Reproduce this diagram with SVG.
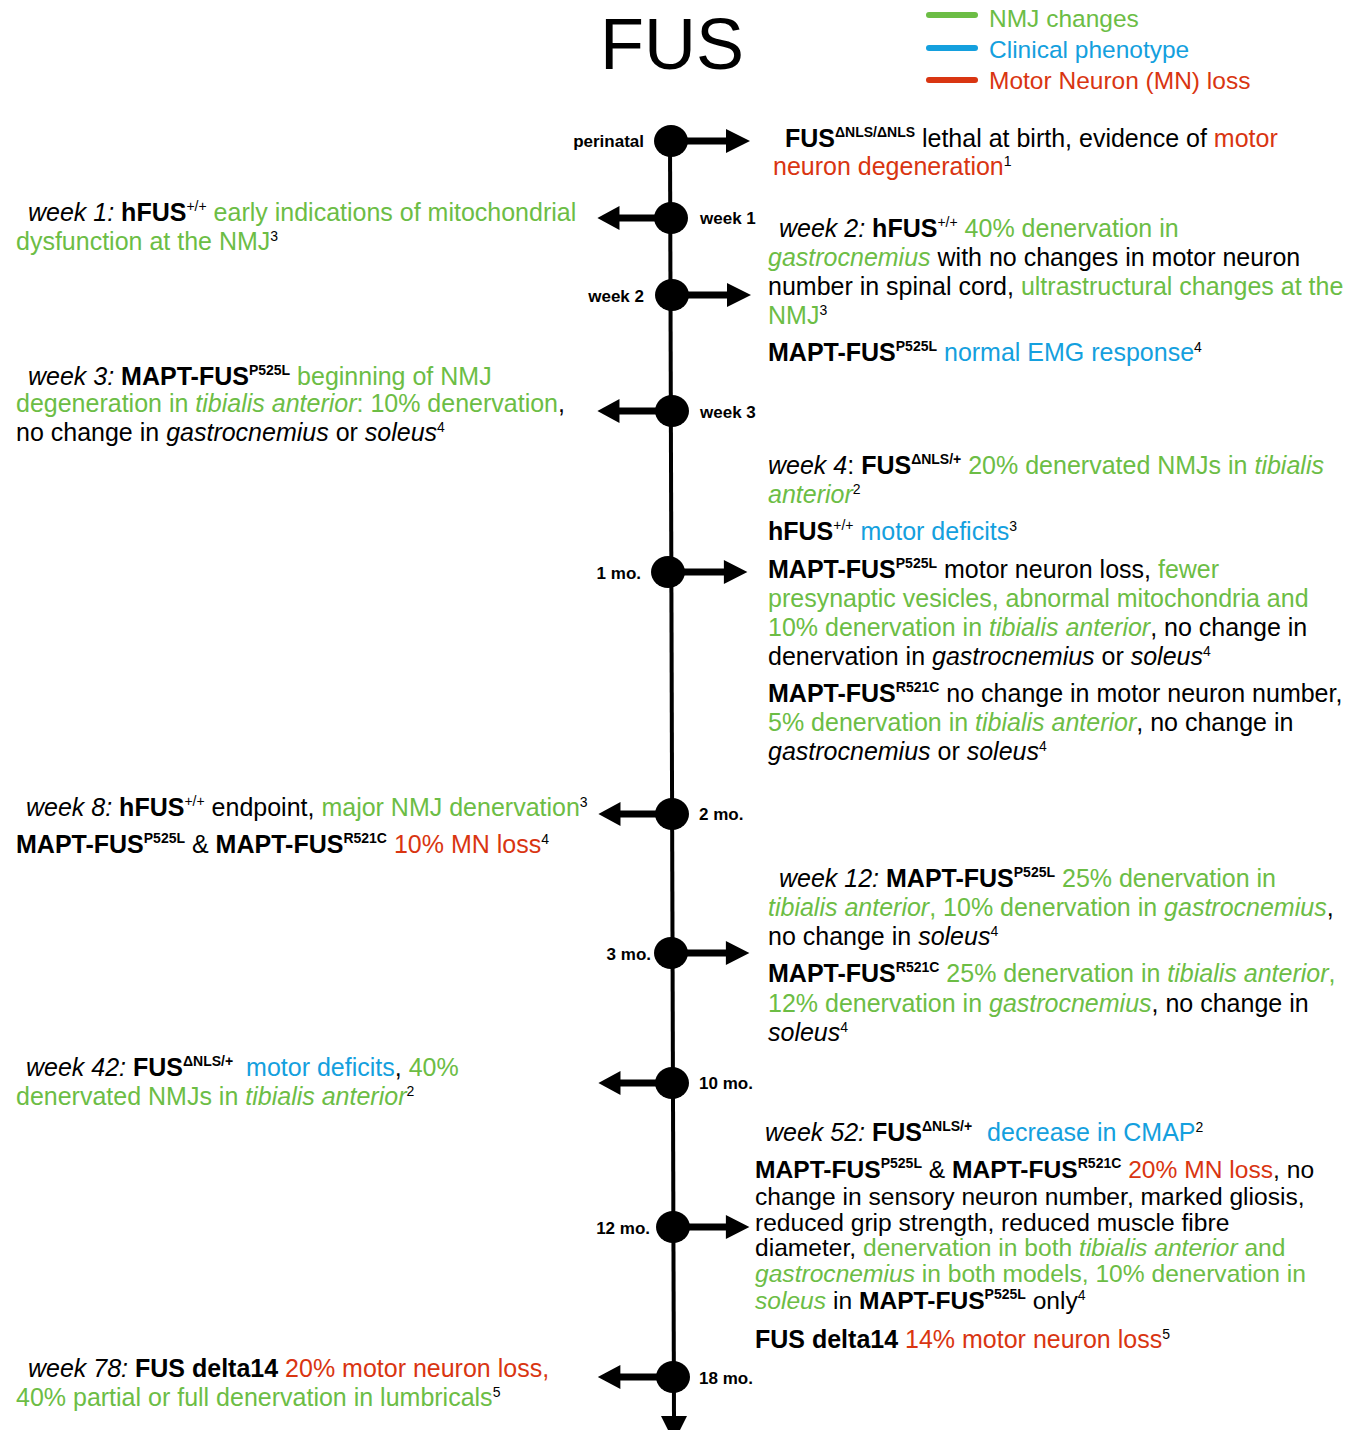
<svg xmlns="http://www.w3.org/2000/svg" width="1362" height="1430" viewBox="0 0 1362 1430">
<style>
text{font-family:"Liberation Sans",Arial,sans-serif;font-size:25px;fill:#000}
.g{fill:#6cbd45}.bl{fill:#14a0de}.r{fill:#d93511}.k{fill:#000}
.i{font-style:italic}.bd{font-weight:bold}
.s{font-size:14px}
.lbl{font-size:17px;font-weight:bold}
.leg{font-size:24.5px}
.tight{font-size:24.6px}
.node{fill:#000}
.conn line{stroke:#000}
</style>
<defs>
<path id="ar" d="M0,-3.5 L56,-3.5 L56,-12 L80,0 L56,12 L56,3.5 L0,3.5 Z"/>
</defs>
<rect width="1362" height="1430" fill="#fff"/>
<text x="600" y="69" style="font-size:72px">FUS</text>
<g id="legend">
<line x1="929" y1="15" x2="975" y2="15" stroke="#6cbd45" stroke-width="6" stroke-linecap="round"/>
<line x1="929" y1="48" x2="975" y2="48" stroke="#14a0de" stroke-width="6" stroke-linecap="round"/>
<line x1="929" y1="80" x2="975" y2="80" stroke="#d93511" stroke-width="6" stroke-linecap="round"/>
<text x="989" y="27" class="g leg">NMJ changes</text>
<text x="989" y="58" class="bl leg">Clinical phenotype</text>
<text x="989" y="89" class="r leg">Motor Neuron (MN) loss</text>
</g>
<g id="connectors" class="conn">
<line x1="670" y1="141" x2="674" y2="1420" stroke-width="4"/>
<polygon points="661,1416 687,1416 674,1442" fill="#000"/>
<use href="#ar" transform="translate(670,141)"/>
<use href="#ar" transform="translate(671,218) scale(-0.92,1)"/>
<use href="#ar" transform="translate(671,295)"/>
<use href="#ar" transform="translate(671,411) scale(-0.92,1)"/>
<use href="#ar" transform="translate(669,572) scale(0.98,1)"/>
<use href="#ar" transform="translate(672,814) scale(-0.92,1)"/>
<use href="#ar" transform="translate(671,953) scale(0.98,1)"/>
<use href="#ar" transform="translate(672,1083) scale(-0.92,1)"/>
<use href="#ar" transform="translate(671,1227) scale(0.98,1)"/>
<use href="#ar" transform="translate(673,1377) scale(-0.94,1)"/>
</g>
<g id="n-perinatal"><ellipse class="node" cx="671" cy="141" rx="17" ry="16"/><text class="lbl" x="644" y="147" text-anchor="end">perinatal</text></g>
<g id="n-week1"><ellipse class="node" cx="671" cy="218" rx="17" ry="16"/><text class="lbl" x="700" y="224">week 1</text></g>
<g id="n-week2"><ellipse class="node" cx="672" cy="295" rx="17" ry="16"/><text class="lbl" x="644" y="302" text-anchor="end">week 2</text></g>
<g id="n-week3"><ellipse class="node" cx="672" cy="411" rx="17" ry="16"/><text class="lbl" x="700" y="418">week 3</text></g>
<g id="n-1mo"><ellipse class="node" cx="668" cy="572" rx="17" ry="16"/><text class="lbl" x="641" y="579" text-anchor="end">1 mo.</text></g>
<g id="n-2mo"><ellipse class="node" cx="672" cy="814" rx="17" ry="16"/><text class="lbl" x="699" y="820">2 mo.</text></g>
<g id="n-3mo"><ellipse class="node" cx="671" cy="953" rx="17" ry="16"/><text class="lbl" x="651" y="960" text-anchor="end">3 mo.</text></g>
<g id="n-10mo"><ellipse class="node" cx="672" cy="1083" rx="17" ry="16"/><text class="lbl" x="699" y="1089">10 mo.</text></g>
<g id="n-12mo"><ellipse class="node" cx="673" cy="1227" rx="17" ry="16"/><text class="lbl" x="650" y="1234" text-anchor="end">12 mo.</text></g>
<g id="n-18mo"><ellipse class="node" cx="673" cy="1377" rx="17" ry="16"/><text class="lbl" x="699" y="1384">18 mo.</text></g>

<g id="t-perinatal">
<text x="785" y="147"><tspan class="bd">FUS</tspan><tspan class="s bd" dy="-10">ΔNLS/ΔNLS</tspan><tspan dy="10"> lethal at birth, evidence of </tspan><tspan class="r">motor</tspan></text>
<text x="773" y="175"><tspan class="r">neuron degeneration</tspan><tspan class="s" dy="-9">1</tspan></text>
</g>
<g id="t-week1">
<text x="28" y="221"><tspan class="i">week 1:</tspan><tspan class="bd"> hFUS</tspan><tspan class="s" dy="-10">+/+</tspan><tspan class="g" dy="10"> early indications of mitochondrial</tspan></text>
<text x="16" y="250"><tspan class="g">dysfunction at the NMJ</tspan><tspan class="s" dy="-9">3</tspan></text>
</g>
<g id="t-week2">
<text x="779" y="237"><tspan class="i">week 2:</tspan><tspan class="bd"> hFUS</tspan><tspan class="s" dy="-10">+/+</tspan><tspan class="g" dy="10"> 40% denervation in</tspan></text>
<text x="768" y="266"><tspan class="g i">gastrocnemius</tspan><tspan> with no changes in motor neuron</tspan></text>
<text x="768" y="295"><tspan>number in spinal cord, </tspan><tspan class="g">ultrastructural changes at the</tspan></text>
<text x="768" y="324"><tspan class="g">NMJ</tspan><tspan class="s" dy="-9">3</tspan></text>
<text x="768" y="361"><tspan class="bd">MAPT-FUS</tspan><tspan class="s bd" dy="-10">P525L</tspan><tspan class="bl" dy="10"> normal EMG response</tspan><tspan class="s" dy="-9">4</tspan></text>
</g>
<g id="t-week3">
<text x="28" y="385"><tspan class="i">week 3:</tspan><tspan class="bd"> MAPT-FUS</tspan><tspan class="s bd" dy="-10">P525L</tspan><tspan class="g" dy="10"> beginning of NMJ</tspan></text>
<text x="16" y="412"><tspan class="g">degeneration in </tspan><tspan class="g i">tibialis anterior</tspan><tspan class="g">: 10% denervation</tspan><tspan>,</tspan></text>
<text x="16" y="441"><tspan>no change in </tspan><tspan class="i">gastrocnemius</tspan><tspan> or </tspan><tspan class="i">soleus</tspan><tspan class="s" dy="-9">4</tspan></text>
</g>
<g id="t-1mo">
<text x="768" y="474"><tspan class="i">week 4</tspan><tspan>: </tspan><tspan class="bd">FUS</tspan><tspan class="s bd" dy="-10">ΔNLS/+</tspan><tspan class="g" dy="10"> 20% denervated NMJs in </tspan><tspan class="g i">tibialis</tspan></text>
<text x="768" y="503"><tspan class="g i">anterior</tspan><tspan class="s" dy="-9">2</tspan></text>
<text x="768" y="540"><tspan class="bd">hFUS</tspan><tspan class="s" dy="-10">+/+</tspan><tspan class="bl" dy="10"> motor deficits</tspan><tspan class="s" dy="-9">3</tspan></text>
<text x="768" y="578"><tspan class="bd">MAPT-FUS</tspan><tspan class="s bd" dy="-10">P525L</tspan><tspan dy="10"> motor neuron loss, </tspan><tspan class="g">fewer</tspan></text>
<text x="768" y="607" class="g">presynaptic vesicles, abnormal mitochondria and</text>
<text x="768" y="636"><tspan class="g">10% denervation in </tspan><tspan class="g i">tibialis anterior</tspan><tspan>, no change in</tspan></text>
<text x="768" y="665"><tspan>denervation in </tspan><tspan class="i">gastrocnemius</tspan><tspan> or </tspan><tspan class="i">soleus</tspan><tspan class="s" dy="-9">4</tspan></text>
<text x="768" y="702"><tspan class="bd">MAPT-FUS</tspan><tspan class="s bd" dy="-10">R521C</tspan><tspan dy="10"> no change in motor neuron number,</tspan></text>
<text x="768" y="731"><tspan class="g">5% denervation in </tspan><tspan class="g i">tibialis anterior</tspan><tspan>, no change in</tspan></text>
<text x="768" y="760"><tspan class="i">gastrocnemius</tspan><tspan> or </tspan><tspan class="i">soleus</tspan><tspan class="s" dy="-9">4</tspan></text>
</g>
<g id="t-2mo">
<text x="26" y="816"><tspan class="i">week 8:</tspan><tspan class="bd"> hFUS</tspan><tspan class="s" dy="-10">+/+</tspan><tspan dy="10"> endpoint, </tspan><tspan class="g">major NMJ denervation</tspan><tspan class="s" dy="-9">3</tspan></text>
<text x="16" y="853"><tspan class="bd">MAPT-FUS</tspan><tspan class="s bd" dy="-10">P525L</tspan><tspan dy="10"> &amp; </tspan><tspan class="bd">MAPT-FUS</tspan><tspan class="s bd" dy="-10">R521C</tspan><tspan class="r" dy="10"> 10% MN loss</tspan><tspan class="s" dy="-9">4</tspan></text>
</g>
<g id="t-3mo">
<text x="779" y="887"><tspan class="i">week 12:</tspan><tspan class="bd"> MAPT-FUS</tspan><tspan class="s bd" dy="-10">P525L</tspan><tspan class="g" dy="10"> 25% denervation in</tspan></text>
<text x="768" y="916"><tspan class="g i">tibialis anterior</tspan><tspan class="g">, 10% denervation in </tspan><tspan class="g i">gastrocnemius</tspan><tspan>,</tspan></text>
<text x="768" y="945"><tspan>no change in </tspan><tspan class="i">soleus</tspan><tspan class="s" dy="-9">4</tspan></text>
<text x="768" y="982"><tspan class="bd">MAPT-FUS</tspan><tspan class="s bd" dy="-10">R521C</tspan><tspan class="g" dy="10"> 25% denervation in </tspan><tspan class="g i">tibialis anterior</tspan><tspan class="g">,</tspan></text>
<text x="768" y="1012"><tspan class="g">12% denervation in </tspan><tspan class="g i">gastrocnemius</tspan><tspan>, no change in</tspan></text>
<text x="768" y="1041"><tspan class="i">soleus</tspan><tspan class="s" dy="-9">4</tspan></text>
</g>
<g id="t-10mo">
<text x="26" y="1076"><tspan class="i">week 42:</tspan><tspan class="bd"> FUS</tspan><tspan class="s bd" dy="-10">ΔNLS/+</tspan><tspan class="bl" dx="6" dy="10"> motor deficits</tspan><tspan>,</tspan><tspan class="g"> 40%</tspan></text>
<text x="16" y="1105"><tspan class="g">denervated NMJs in </tspan><tspan class="g i">tibialis anterior</tspan><tspan class="s" dy="-9">2</tspan></text>
</g>
<g id="t-12mo">
<text x="765" y="1141"><tspan class="i">week 52:</tspan><tspan class="bd"> FUS</tspan><tspan class="s bd" dy="-10">ΔNLS/+</tspan><tspan class="bl" dx="8" dy="10"> decrease in CMAP</tspan><tspan class="s" dy="-9">2</tspan></text>
<text x="755" y="1178" class="tight"><tspan class="bd">MAPT-FUS</tspan><tspan class="s bd" dy="-10">P525L</tspan><tspan dy="10"> &amp; </tspan><tspan class="bd">MAPT-FUS</tspan><tspan class="s bd" dy="-10">R521C</tspan><tspan class="r" dy="10"> 20% MN loss</tspan><tspan>, no</tspan></text>
<text x="755" y="1205" class="tight">change in sensory neuron number, marked gliosis,</text>
<text x="755" y="1231" class="tight">reduced grip strength, reduced muscle fibre</text>
<text x="755" y="1256" class="tight"><tspan>diameter, </tspan><tspan class="g">denervation in both </tspan><tspan class="g i">tibialis anterior</tspan><tspan class="g"> and</tspan></text>
<text x="755" y="1282" class="tight"><tspan class="g i">gastrocnemius</tspan><tspan class="g"> in both models, 10% denervation in</tspan></text>
<text x="755" y="1309" class="tight"><tspan class="g i">soleus</tspan><tspan> in </tspan><tspan class="bd">MAPT-FUS</tspan><tspan class="s bd" dy="-10">P525L</tspan><tspan dy="10"> only</tspan><tspan class="s" dy="-9">4</tspan></text>
<text x="755" y="1348"><tspan class="bd">FUS delta14</tspan><tspan class="r"> 14% motor neuron loss</tspan><tspan class="s" dy="-9">5</tspan></text>
</g>
<g id="t-18mo">
<text x="28" y="1377"><tspan class="i">week 78:</tspan><tspan class="bd"> FUS delta14</tspan><tspan class="r"> 20% motor neuron loss,</tspan></text>
<text x="16" y="1406"><tspan class="g">40% partial or full denervation in lumbricals</tspan><tspan class="s" dy="-9">5</tspan></text>
</g>
</svg>
